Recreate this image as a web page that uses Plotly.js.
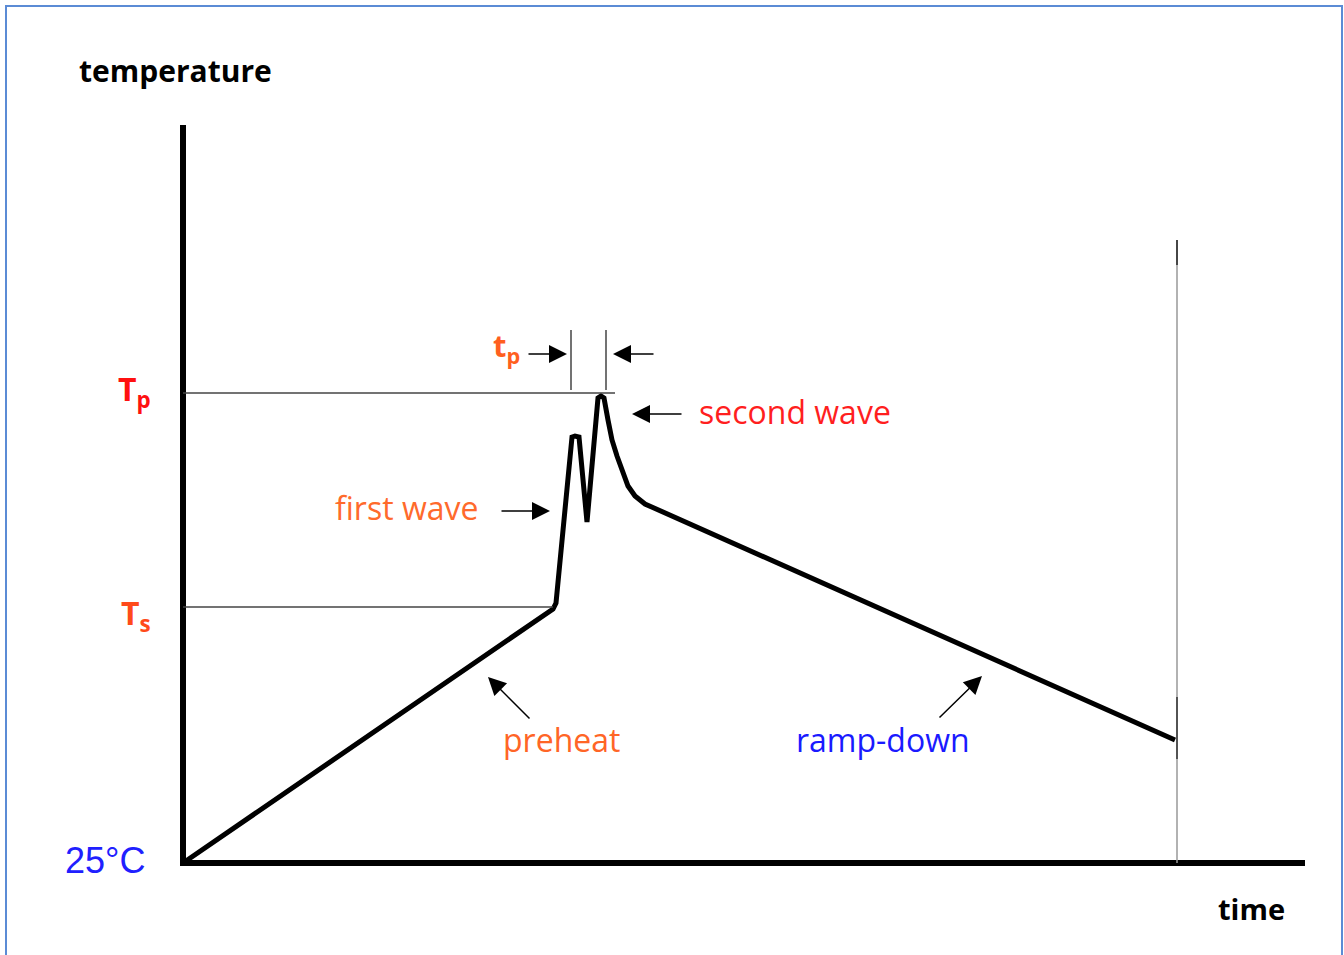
<!DOCTYPE html>
<html>
<head>
<meta charset="utf-8">
<script src="https://cdn.plot.ly/plotly-3.0.1.min.js"></script>
<style>
  body { margin: 0; background: #fff; }
  #frame { position: absolute; left: 5px; top: 5px; width: 1334px; height: 960px;
           border: 2px solid #5b8bd5; border-bottom: none; pointer-events: none; }
</style>
</head>
<body>
<div id="chart" style="width:1344px;height:955px;"></div>
<div id="frame"></div>
<script>
// wave soldering profile, time in s, temperature in °C
var profileTime = [0, 91.25, 92.5, 93.25, 97.25, 98, 99, 101, 103.75, 104.5, 105.25,
                   106.25, 107.25, 108.5, 109.75, 111.25, 113, 115.5, 248];
var profileTemp = [25, 150, 152, 155, 238, 238.5, 238, 195.5, 257.5, 258.5, 257.5,
                   246.5, 236.5, 228.5, 221.5, 213.5, 208.5, 204.5, 86.5];

var roomTemp = 25;
var tsTemp = 153, tsTime = 92.5;
var tpTemp = 260, tpLineEnd = 108;
var tpStart = 97, tpEnd = 105.75;
var endTime = 248.5, endTop = 336.5;
var timeMax = 280.5, tempMax = 394;

var xRange = [-2, 282], yRange = [22, 396];

var thin = {color: '#444', width: 1.5};

var shapes = [
  // axes
  {type: 'line', x0: 0, x1: 0, y0: roomTemp - 1.5, y1: tempMax, line: {color: '#000', width: 6}},
  {type: 'line', x0: 0, x1: timeMax, y0: roomTemp, y1: roomTemp, line: {color: '#000', width: 6}},
  // Ts / Tp levels
  {type: 'line', x0: 0, x1: tsTime, y0: tsTemp, y1: tsTemp, line: thin},
  {type: 'line', x0: 0, x1: tpLineEnd, y0: tpTemp, y1: tpTemp, line: thin},
  // tp markers
  {type: 'line', x0: tpStart, x1: tpStart, y0: tpTemp + 1.5, y1: tpTemp + 31.5, line: thin},
  {type: 'line', x0: tpEnd, x1: tpEnd, y0: tpTemp + 1.5, y1: tpTemp + 31.5, line: thin},
  // end of process
  {type: 'line', x0: endTime, x1: endTime, y0: roomTemp, y1: endTop, line: {color: '#999', width: 1.5}},
  {type: 'line', x0: endTime, x1: endTime, y0: 77, y1: 108, line: {color: '#333', width: 1.5}},
  {type: 'line', x0: endTime, x1: endTime, y0: 324, y1: endTop, line: {color: '#222', width: 1.5}}
];

function arrow(x, y, ax, ay) {
  return {x: x, y: y, ax: ax, ay: ay, axref: 'x', ayref: 'y', text: '',
          showarrow: true, arrowhead: 2, arrowsize: 2.4, arrowwidth: 1.5, arrowcolor: '#000'};
}

// labels outside the plot area go through paper coordinates
function px(t) { return (t - xRange[0]) / (xRange[1] - xRange[0]); }
function py(T) { return (T - yRange[0]) / (yRange[1] - yRange[0]); }

function label(txt, x, y, anchor, color, size, bold, family) {
  return {xref: 'paper', yref: 'paper', x: px(x), y: py(y),
          text: bold ? '<b>' + txt + '</b>' : txt, showarrow: false,
          xanchor: anchor, yanchor: 'middle',
          font: {family: family || 'Open Sans', size: size, color: color}};
}

var annotations = [
  arrow(96, 279.5, 86, 279.5),
  arrow(107.5, 279.5, 118, 279.5),
  arrow(112.25, 249.5, 125, 249.5),
  arrow(91.75, 201, 79.25, 201),
  arrow(76.25, 118, 87, 96.5),
  arrow(199.75, 118.5, 188.75, 97),

  label('t<sub>p</sub>', 77, 283, 'left', '#ff5f1f', 31, true),
  label('T<sub>p</sub>', -7.5, 261, 'right', '#ff1010', 32, true),
  label('T<sub>s</sub>', -7.5, 149, 'right', '#ff4a1a', 32, true),
  label('25°C', -9, 26.5, 'right', '#2020ff', 36, false, 'Liberation Sans'),
  label('temperature', -26.5, 421.5, 'left', '#000', 30, true),
  label('time', 276, 2.5, 'right', '#000', 29, true),
  label('second wave', 128.5, 251, 'left', '#ff1f1f', 32, false),
  label('first wave', 74.25, 202.5, 'right', '#ff6a2c', 32, false),
  label('preheat', 79.5, 87, 'left', '#ff6526', 32, false),
  label('ramp-down', 152.75, 87, 'left', '#1a1aff', 32, false)
];

var profile = {
  type: 'scatter', mode: 'lines',
  x: profileTime, y: profileTemp,
  line: {color: '#000', width: 5},
  hoverinfo: 'skip'
};

var hidden = {showgrid: false, zeroline: false, showticklabels: false, ticks: '', showline: false};

var layout = {
  width: 1344, height: 955,
  margin: {l: 175, r: 33, t: 121, b: 86},
  paper_bgcolor: '#fff', plot_bgcolor: '#fff',
  showlegend: false,
  xaxis: Object.assign({range: xRange}, hidden),
  yaxis: Object.assign({range: yRange}, hidden),
  shapes: shapes,
  annotations: annotations
};

Plotly.newPlot('chart', [profile], layout, {displayModeBar: false, staticPlot: true});
</script>
</body>
</html>
